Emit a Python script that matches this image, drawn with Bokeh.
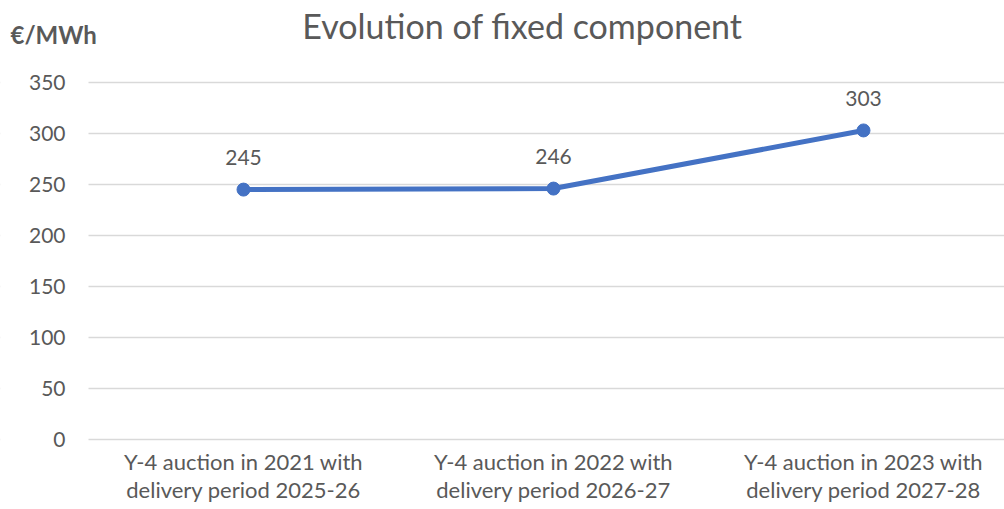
from bokeh.plotting import figure
from bokeh.models import Range1d, FixedTicker, Label, ColumnDataSource, BoxAnnotation
from bokeh.core.properties import value
from bokeh.embed import file_html
from bokeh.resources import INLINE

categories = ["Y-4 auction in 2021 with\ndelivery period 2025-26",
              "Y-4 auction in 2022 with\ndelivery period 2026-27",
              "Y-4 auction in 2023 with\ndelivery period 2027-28"]
values = [245, 246, 303]
y_ticks = [0, 50, 100, 150, 200, 250, 300, 350]
title_text = "Evolution of fixed component"
unit_text = "€/MWh"

FONT = "Lato"
GREY = "#595959"
BLUE = "#4472C4"

W, H = 1004, 509
X0, XS = 88, 310.0      # pixel of category-axis origin, px per category
Y0, YS = 439, 1.02      # pixel of value 0, px per unit

xs = [i + 0.5 for i in range(len(categories))]
src = ColumnDataSource(dict(x=xs, y=values, lbl=[str(v) for v in values]))

p = figure(width=W, height=H, output_backend="svg", toolbar_location=None,
           x_range=Range1d(-X0 / XS, (W - X0) / XS),
           y_range=Range1d(-(H - Y0) / YS, Y0 / YS),
           min_border_left=0, min_border_right=0, min_border_top=0, min_border_bottom=0)
p.outline_line_color = None

p.xgrid.visible = False
p.ygrid.grid_line_color = "#D9D9D9"
p.ygrid.grid_line_width = 1.3
# hide grid left of the value axis
p.add_layout(BoxAnnotation(right=0, fill_color="white", fill_alpha=1.0,
                           line_color=None, level="underlay"))

p.yaxis.fixed_location = 0
p.yaxis.ticker = FixedTicker(ticks=y_ticks)
p.yaxis.axis_line_color = None
p.yaxis.major_tick_line_color = None
p.yaxis.minor_tick_line_color = None
p.yaxis.major_label_standoff = 17
p.yaxis.major_label_text_font = FONT
p.yaxis.major_label_text_font_size = "21px"
p.yaxis.major_label_text_color = GREY

p.xaxis.fixed_location = 0
p.xaxis.ticker = FixedTicker(ticks=xs)
p.xaxis.major_label_overrides = {x: c for x, c in zip(xs, categories)}
p.xaxis.axis_line_color = None
p.xaxis.major_tick_line_color = None
p.xaxis.minor_tick_line_color = None
p.xaxis.major_tick_out = 0
p.xaxis.major_label_standoff = 8
p.xaxis.major_label_text_font = FONT
p.xaxis.major_label_text_font_size = "22px"
p.xaxis.major_label_text_line_height = 1.04
p.xaxis.major_label_text_color = GREY

p.line("x", "y", source=src, line_color=BLUE, line_width=5)
p.scatter("x", "y", source=src, size=13, fill_color=BLUE, line_color=BLUE)
p.text("x", "y", text="lbl", source=src, y_offset=-32, text_align="center",
       text_baseline="middle", text_font=value(FONT), text_font_size="21px",
       text_color=GREY)

p.add_layout(Label(x=(522 - X0) / XS, y=(Y0 - 25) / YS, text=title_text,
                   text_font=FONT, text_font_size="34px", text_color=GREY,
                   text_align="center", text_baseline="middle"))
p.add_layout(Label(x=(10 - X0) / XS, y=(Y0 - 34) / YS, text=unit_text,
                   text_font=FONT, text_font_size="24px", text_font_style="bold",
                   text_color=GREY, text_align="left", text_baseline="middle"))

open("out.html", "w").write(file_html(p, INLINE))
